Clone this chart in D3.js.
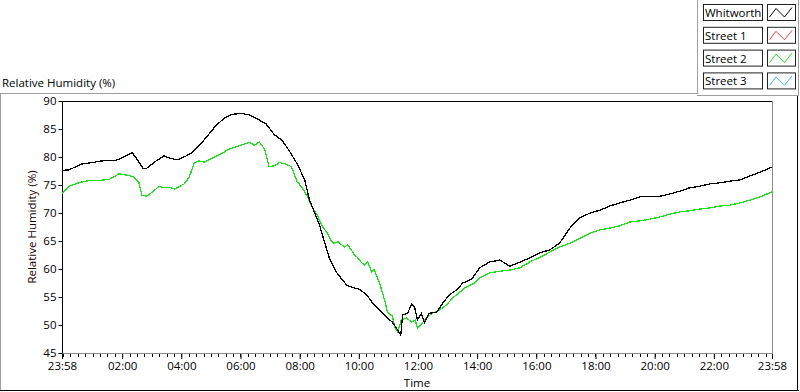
<!DOCTYPE html>
<html>
<head>
<meta charset="utf-8">
<script src="https://cdn.jsdelivr.net/npm/d3@7"></script>
<style>
  body { margin: 0; background: #fff; }
  svg text { font-family: "Open Sans", sans-serif; font-size: 11px; fill: #000; }
</style>
</head>
<body>
<svg id="chart" width="800" height="392"></svg>
<script>

// clock hours (23:58 of previous day = -0.033)
var hoursWhitworth = [-0.033,0.20,0.64,0.98,1.32,1.79,1.90,2.13,2.34,2.51,2.71,2.84,3.15,3.42,3.49,3.76,3.93,4.16,4.37,4.60,4.88,5.18,5.45,5.72,6.03,6.30,6.57,6.87,7.14,7.41,7.65,7.92,8.16,8.33,8.67,9.00,9.24,9.45,9.61,9.85,10.02,10.26,10.46,10.70,10.94,11.14,11.31,11.41,11.48,11.65,11.78,11.88,11.98,12.12,12.22,12.39,12.63,12.83,13.07,13.30,13.51,13.81,14.08,14.42,14.76,15.10,15.44,15.78,16.11,16.45,16.79,17.13,17.47,17.81,18.15,18.48,18.82,19.16,19.50,19.84,20.18,20.51,20.85,21.19,21.53,21.87,22.21,22.55,22.89,23.22,23.56,23.967];
var valuesWhitworth = [77.6,77.7,78.75,79.0,79.3,79.4,79.6,80.2,80.8,79.5,77.9,78.0,79.3,80.2,80.0,79.6,79.6,80.2,80.8,82.0,83.75,85.7,86.9,87.6,87.8,87.5,86.8,85.9,84.05,82.9,81.1,78.75,76.0,72.3,67.9,62.0,59.5,58.0,57.0,56.6,56.4,55.4,53.9,52.7,51.4,50.5,49.1,48.2,51.8,52.1,53.75,53.2,50.9,52.1,50.4,52.1,52.3,53.9,55.4,56.25,57.5,58.2,60.2,61.25,61.6,60.5,61.2,62.0,62.9,63.4,64.6,67.3,69.1,70.0,70.5,71.25,71.8,72.3,72.9,73.0,73.0,73.4,73.9,74.5,74.8,75.2,75.4,75.7,75.9,76.6,77.3,78.2];

var hoursStreet2 = [-0.033,0.20,0.54,0.88,1.22,1.56,1.90,2.23,2.40,2.57,2.67,2.84,3.08,3.25,3.42,3.59,3.76,4.10,4.27,4.44,4.60,4.77,4.94,5.11,5.28,5.62,5.96,6.30,6.47,6.64,6.81,6.97,7.14,7.31,7.48,7.72,7.92,8.09,8.26,8.43,8.60,8.73,8.94,9.05,9.17,9.30,9.51,9.62,9.75,9.85,9.95,10.08,10.19,10.30,10.43,10.52,10.63,10.72,10.80,10.90,10.97,11.06,11.14,11.22,11.31,11.44,11.61,11.78,11.90,11.98,12.15,12.32,12.49,12.73,12.97,13.17,13.41,13.64,13.91,14.08,14.42,14.76,15.10,15.44,15.78,16.11,16.45,16.79,17.13,17.47,17.81,18.15,18.48,18.82,19.16,19.50,19.84,20.18,20.51,20.85,21.19,21.53,21.87,22.21,22.55,22.89,23.22,23.56,23.967];
var valuesStreet2 = [73.4,74.8,75.4,75.8,75.8,76.0,77.0,76.7,76.4,75.4,73.2,73.0,74.0,74.8,74.5,74.6,74.3,75.2,76.4,78.9,79.3,79.1,79.5,80.0,80.4,81.4,82.0,82.6,82.1,82.7,81.4,78.3,78.4,79.0,78.8,78.3,75.6,74.5,72.9,70.9,69.6,67.9,66.4,65.2,64.6,64.9,63.9,64.3,63.4,62.5,62.1,61.2,60.7,61.3,59.5,59.9,58.4,57.2,55.7,53.9,52.3,51.8,51.6,49.6,48.75,50.9,51.25,50.5,50.9,49.5,50.4,51.4,52.1,52.7,53.6,54.8,55.9,56.8,57.5,58.4,59.3,59.6,59.8,60.2,61.25,62.1,63.0,63.9,64.6,65.5,66.4,67.0,67.3,67.7,68.4,68.6,68.9,69.3,69.8,70.2,70.4,70.7,70.9,71.25,71.4,71.8,72.3,72.9,73.75];

var legendNames = ["Whitworth", "Street 1", "Street 2", "Street 3"];
var legendColors = ["#000000", "#ff3c3c", "#1ee01e", "#3cb4ff"];

var yTicks = [45, 50, 55, 60, 65, 70, 75, 80, 85, 90];
var xTickHours = [-0.033, 2, 4, 6, 8, 10, 12, 14, 16, 18, 20, 22, 23.967];
var xTickLabels = ["23:58","02:00","04:00","06:00","08:00","10:00","12:00","14:00","16:00","18:00","20:00","22:00","23:58"];

var base = Date.UTC(2000, 0, 2);
function toDate(h) { return new Date(base + Math.round(h * 60) * 60000); }

var svg = d3.select("#chart");

var plotLeft = 62, plotTop = 101, plotRight = 772, plotBottom = 353;

var x = d3.scaleUtc()
  .domain([toDate(-0.033), toDate(23.967)])
  .range([plotLeft, plotRight]);

var y = d3.scaleLinear()
  .domain([45, 90])
  .range([plotBottom, plotTop]);

// panel frame
function hline(x1, x2, yy, c) {
  svg.append("line").attr("x1", x1).attr("x2", x2).attr("y1", yy + 0.5).attr("y2", yy + 0.5).attr("stroke", c);
}
function vline(xx, y1, y2, c) {
  svg.append("line").attr("x1", xx + 0.5).attr("x2", xx + 0.5).attr("y1", y1).attr("y2", y2).attr("stroke", c);
}
hline(0, 698, 93, "#a0a0a0");
vline(0, 93, 391, "#a0a0a0");
hline(0, 799, 390, "#000");
vline(797, 95, 391, "#000");
vline(697, 0, 94, "#a0a0a0");
hline(697, 799, 95, "#a0a0a0");
vline(798, 0, 96, "#a0a0a0");

svg.append("text").attr("x", 2).attr("y", 87).style("font-size", "11.5px").text("Relative Humidity (%)");

// legend
var leg = svg.append("g").selectAll("g")
  .data(legendNames)
  .enter().append("g")
  .attr("transform", function(d, i) { return "translate(703," + (4.5 + i * 22.8) + ")"; });

leg.append("rect").attr("x", 0.5).attr("y", 0).attr("width", 59).attr("height", 16)
  .attr("fill", "#fff").attr("stroke", "#222");
leg.append("text").attr("x", 2).attr("y", 12.5).style("font-size", "11.5px").text(function(d) { return d; });
leg.append("rect").attr("x", 64.5).attr("y", 0).attr("width", 28).attr("height", 16)
  .attr("fill", "#fff").attr("stroke", "#222");
leg.append("polyline")
  .attr("points", "66.5,12.5 73,4 81.5,12.5 89,3")
  .attr("fill", "none")
  .attr("stroke", function(d, i) { return legendColors[i]; });

// plot frame
hline(plotLeft, plotRight + 1, plotTop, "#000");
vline(plotLeft, plotTop, plotBottom + 1, "#000");
vline(plotRight, plotTop, plotBottom + 1, "#8c8c8c");
hline(plotLeft, plotRight + 1, plotBottom, "#8c8c8c");

// y axis
var yAxis = svg.append("g")
  .attr("transform", "translate(" + (plotLeft + 0.5) + ",0)")
  .call(d3.axisLeft(y).tickValues(yTicks).tickSize(4).tickPadding(2));
yAxis.select(".domain").remove();
yAxis.selectAll("text").style("font-size", "11.5px").style("font-family", "'Open Sans', sans-serif");

svg.append("text")
  .attr("transform", "translate(36," + ((plotTop + plotBottom) / 2) + ") rotate(-90)")
  .attr("text-anchor", "middle")
  .style("font-size", "11.5px")
  .style("fill", "#1a0000")
  .text("Relative Humidity (%)");

// x axis: minor ticks every 15 min, labelled majors
var minor = d3.utcMinute.every(15).range(x.domain()[0], x.domain()[1]);
svg.append("g").selectAll("line")
  .data(minor)
  .enter().append("line")
  .attr("x1", function(d) { return Math.round(x(d)) + 0.5; })
  .attr("x2", function(d) { return Math.round(x(d)) + 0.5; })
  .attr("y1", plotBottom + 1).attr("y2", plotBottom + 4)
  .attr("stroke", "#000");

var xAxis = svg.append("g")
  .attr("transform", "translate(0," + (plotBottom + 1) + ")")
  .call(d3.axisBottom(x)
    .tickValues(xTickHours.map(toDate))
    .tickFormat(function(d, i) { return xTickLabels[i]; })
    .tickSize(5).tickPadding(3));
xAxis.select(".domain").remove();
xAxis.selectAll("text").style("font-size", "11.5px").style("font-family", "'Open Sans', sans-serif");

svg.append("text")
  .attr("x", (plotLeft + plotRight) / 2).attr("y", 387)
  .attr("text-anchor", "middle")
  .style("font-size", "11.5px")
  .text("Time");

// series
var line = d3.line()
  .x(function(d) { return x(toDate(d[0])); })
  .y(function(d) { return y(d[1]); });

svg.append("path")
  .datum(d3.zip(hoursStreet2, valuesStreet2))
  .attr("d", line)
  .attr("fill", "none")
  .attr("stroke", legendColors[2])
  .attr("stroke-width", 1.3)
  .attr("shape-rendering", "crispEdges");

svg.append("path")
  .datum(d3.zip(hoursWhitworth, valuesWhitworth))
  .attr("d", line)
  .attr("fill", "none")
  .attr("stroke", legendColors[0])
  .attr("stroke-width", 1.3)
  .attr("shape-rendering", "crispEdges");

</script>
</body>
</html>
